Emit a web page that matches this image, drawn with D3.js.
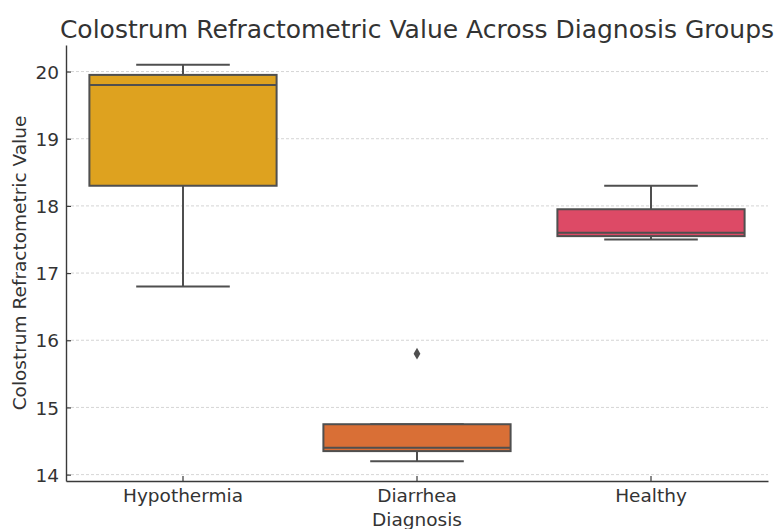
<!DOCTYPE html>
<html>
<head>
<meta charset="utf-8">
<script src="https://cdn.jsdelivr.net/npm/d3@7"></script>
<style>
  body { margin: 0; background: #fff; }
  svg { display: block; font-family: "DejaVu Sans", sans-serif; }
</style>
</head>
<body>
<svg id="chart"></svg>
<script>
// groups and their box stats
var groups = ["Hypothermia", "Diarrhea", "Healthy"];
var colors = ["#dea21f", "#d96f36", "#dd4a66"];
var whiskerLow = [16.8, 14.2, 17.5];
var q1 = [18.3, 14.35, 17.55];
var median = [19.8, 14.4, 17.6];
var q3 = [19.95, 14.75, 17.95];
var whiskerHigh = [20.1, 14.75, 18.3];
var outliers = [[], [15.8], []];
var yTicks = [14, 15, 16, 17, 18, 19, 20];

var svgWidth = 778, svgHeight = 529;
var margin = { top: 45, right: 10, bottom: 48, left: 66 };
var width = svgWidth - margin.left - margin.right;
var height = svgHeight - margin.top - margin.bottom;

var svg = d3.select("#chart")
    .attr("width", svgWidth)
    .attr("height", svgHeight);

var g = svg.append("g")
    .attr("transform", "translate(" + margin.left + "," + margin.top + ")");

var x = d3.scaleBand()
    .domain(groups)
    .range([0, width])
    .padding(0);

var y = d3.scaleLinear()
    .domain([13.905, 20.395])
    .range([height, 0]);

// grid
g.append("g")
    .selectAll("line")
    .data(yTicks)
    .join("line")
    .attr("x1", 0)
    .attr("x2", width)
    .attr("y1", function(d) { return y(d); })
    .attr("y2", function(d) { return y(d); })
    .attr("stroke", "#d0d0d0")
    .attr("stroke-width", 0.9)
    .attr("stroke-dasharray", "3,2");

var lineColor = "#4f4f4f";
var boxW = x.bandwidth() * 0.8;
var capW = boxW * 0.5;

var boxes = g.append("g")
    .selectAll("g")
    .data(groups)
    .join("g")
    .attr("transform", function(d) { return "translate(" + (x(d) + x.bandwidth() / 2) + ",0)"; });

// whiskers
boxes.append("line")
    .attr("y1", function(d, i) { return y(whiskerLow[i]); })
    .attr("y2", function(d, i) { return y(q1[i]); })
    .attr("stroke", lineColor).attr("stroke-width", 2);
boxes.append("line")
    .attr("y1", function(d, i) { return y(q3[i]); })
    .attr("y2", function(d, i) { return y(whiskerHigh[i]); })
    .attr("stroke", lineColor).attr("stroke-width", 2);
boxes.append("line")
    .attr("x1", -capW / 2).attr("x2", capW / 2)
    .attr("y1", function(d, i) { return y(whiskerLow[i]); })
    .attr("y2", function(d, i) { return y(whiskerLow[i]); })
    .attr("stroke", lineColor).attr("stroke-width", 2);
boxes.append("line")
    .attr("x1", -capW / 2).attr("x2", capW / 2)
    .attr("y1", function(d, i) { return y(whiskerHigh[i]); })
    .attr("y2", function(d, i) { return y(whiskerHigh[i]); })
    .attr("stroke", lineColor).attr("stroke-width", 2);

// box
boxes.append("rect")
    .attr("x", -boxW / 2)
    .attr("width", boxW)
    .attr("y", function(d, i) { return y(q3[i]); })
    .attr("height", function(d, i) { return y(q1[i]) - y(q3[i]); })
    .attr("fill", function(d, i) { return colors[i]; })
    .attr("stroke", lineColor)
    .attr("stroke-width", 2);

// median
boxes.append("line")
    .attr("x1", -boxW / 2).attr("x2", boxW / 2)
    .attr("y1", function(d, i) { return y(median[i]); })
    .attr("y2", function(d, i) { return y(median[i]); })
    .attr("stroke", lineColor).attr("stroke-width", 2);

// outliers (diamonds)
boxes.each(function(d, i) {
    d3.select(this).selectAll("path.out")
        .data(outliers[i])
        .join("path")
        .attr("class", "out")
        .attr("d", d3.symbol(d3.symbolDiamond2, 60))
        .attr("transform", function(v) { return "translate(0," + y(v) + ") scale(0.7,1.2)"; })
        .attr("fill", lineColor);
});

// axes
var xAxis = g.append("g")
    .attr("transform", "translate(0," + height + ")")
    .call(d3.axisBottom(x).tickSizeInner(-5).tickSizeOuter(0).tickPadding(8));
var yAxis = g.append("g")
    .call(d3.axisLeft(y).tickValues(yTicks).tickFormat(d3.format("d"))
        .tickSizeInner(-5).tickSizeOuter(0).tickPadding(7));

[xAxis, yAxis].forEach(function(a) {
    a.attr("font-size", null).attr("font-family", null);
    a.select(".domain").attr("stroke", "#3a3a3a").attr("stroke-width", 1.4);
    a.selectAll(".tick line").attr("stroke", "#3a3a3a").attr("stroke-width", 1.2);
    a.selectAll(".tick text")
        .attr("fill", "#333")
        .style("font-size", "18.5px")
        .style("font-family", "DejaVu Sans, sans-serif");
});
yAxis.selectAll(".tick text").attr("dy", "0.36em");

// labels
svg.append("text")
    .attr("x", margin.left + width / 2)
    .attr("y", 38)
    .attr("text-anchor", "middle")
    .attr("fill", "#333")
    .style("font-size", "25px")
    .text("Colostrum Refractometric Value Across Diagnosis Groups");

svg.append("text")
    .attr("x", margin.left + width / 2)
    .attr("y", 526)
    .attr("text-anchor", "middle")
    .attr("fill", "#333")
    .style("font-size", "18.5px")
    .text("Diagnosis");

svg.append("text")
    .attr("transform", "translate(26," + (margin.top + height / 2) + ") rotate(-90)")
    .attr("text-anchor", "middle")
    .attr("fill", "#333")
    .style("font-size", "18.5px")
    .text("Colostrum Refractometric Value");
</script>
</body>
</html>
